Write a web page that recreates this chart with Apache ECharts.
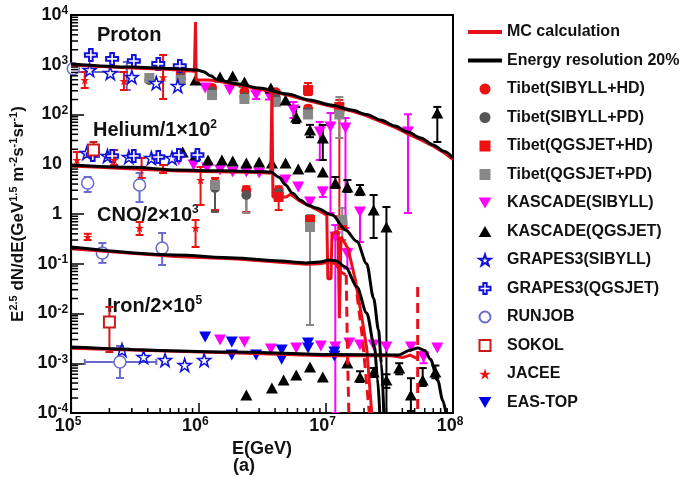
<!DOCTYPE html>
<html>
<head>
<meta charset="utf-8">
<script src="https://cdn.jsdelivr.net/npm/echarts@6/dist/echarts.min.js"></script>
<style>
  html, body { margin: 0; padding: 0; background: #fff; }
  #chart { width: 682px; height: 478px; }
</style>
</head>
<body>
<div id="chart"></div>
<script>
const FONT = '"Liberation Sans", Arial, Helvetica, sans-serif';

// ---- Energy resolution 20% spectra (black) ----
const resProton = [[1e5,1040],[3e5,900],[6e5,840],[9.8e5,784],[1.1e6,720],[1.25e6,600],[1.4e6,500],[2e6,415],[3e6,341],[5e6,257],[7.5e6,196],[1.1e7,155],[1.6e7,123],[2.1e7,100],[2.7e7,77.5],[3.5e7,58.6],[4.4e7,44.5],[5.6e7,33.7],[7e7,24.4],[8.5e7,18.2],[1e8,13.4]];
const resHelium = [[1e5,9.66],[3e5,8.7],[6.9e5,7.66],[1.5e6,7.4],[3e6,7.1],[3.7e6,6.98],[4.3e6,5.5],[4.84e6,3.83],[5.5e6,2.6],[6.3e6,1.91],[7.3e6,1.5],[8.4e6,1.32],[1.13e7,0.955],[1.43e7,0.477],[1.76e7,0.28],[2.1e7,0.1],[2.38e7,0.02],[2.6e7,4.7e-3],[2.74e7,1e-3],[2.86e7,1e-4]];
const resCNO = [[1e5,0.217],[6.6e5,0.15],[1.93e6,0.131],[4e6,0.115],[7e6,0.104],[9e6,0.108],[1.07e7,0.119],[1.2e7,0.115],[1.43e7,0.086],[1.76e7,0.034],[2.1e7,0.0102],[2.42e7,2.1e-3],[2.55e7,5e-4],[2.66e7,1e-4]];
const resIron = [[1e5,2.12e-3],[1.93e6,1.68e-3],[1.13e7,1.5e-3],[3.7e7,1.47e-3],[4.67e7,1.85e-3],[5.3e7,2.03e-3],[6e7,1.8e-3],[6.65e7,1.2e-3],[7.6e7,4.5e-4],[8.3e7,1.8e-4],[8.8e7,1e-4]];

// ---- MC calculation (red) ----
const mcProton = [[1e5,990],[3e5,860],[6e5,800],[9.3e5,740],[9.49e5,7200],[9.6e5,494],[1.2e6,494],[1.4e6,470],[2e6,395],[3e6,325],[5e6,245],[7.5e6,186],[1.1e7,147],[1.6e7,117],[2.1e7,94],[2.7e7,72],[3.5e7,55],[4.4e7,41],[5.6e7,31],[7e7,23],[8.5e7,17],[1e8,12.5]];
const mcHelium = [[1e5,9.2],[6.9e5,7.3],[3e6,6.8],[3.7e6,6.6],[3.78e6,270],[3.85e6,2.2],[4.9e6,2.2],[5.3e6,2.5],[6.3e6,1.8],[8.4e6,1.25],[1.02e7,0.95],[1.04e7,0.05],[1.1e7,0.05],[1.12e7,0.4],[1.25e7,0.45],[1.28e7,0.008],[1.32e7,0.35],[1.5e7,0.2],[1.7e7,0.05],[1.9e7,0.01],[2.1e7,2e-3],[2.3e7,1e-4]];
const mcCNO = [[1e5,0.2],[6.6e5,0.14],[2e6,0.124],[7e6,0.098],[9e6,0.1],[1.07e7,0.108],[1.2e7,0.1],[1.3e7,0.07],[1.43e7,0.06]];
const mcIron = [[1e5,2.0e-3],[2e6,1.6e-3],[1e7,1.42e-3],[3.3e7,1.42e-3],[4e7,1.3e-3],[4.6e7,1.45e-3],[5.2e7,1.25e-3]];
const mcDashA = [[1.45e7,0.06],[1.48e7,2e-3],[1.52e7,1e-4]];
const mcDashB = [[1.7e7,0.05],[1.95e7,3e-3],[2.2e7,1e-4]];
const mcDashC = [[5.28e7,0.034],[5.28e7,1e-4]];

// ---- Tibet ----
const tibetSH = [[7.27e5,680],[1.28e6,340],[2.3e6,285],[4.06e6,280],[7.27e6,130],[1.28e7,125],[1.35e6,4.2],[2.38e6,3.0],[4.27e6,3.0]];
const tibetSP = [[4.12e5,494],[7.27e5,540],[1.28e6,285],[2.3e6,225],[4.06e6,215],[7.27e6,112],[1.28e7,112],[1.35e6,3.33],[2.38e6,2.41],[4.27e6,2.64]];
const tibetQH = [[7.27e6,311],[1.28e7,142],[4.27e6,2.2],[7.53e6,0.757],[1.35e7,0.6]];
const tibetQP = [[4.12e5,542],[7.27e5,494],[1.28e6,246],[2.3e6,205],[4.06e6,178],[7.27e6,100],[1.28e7,100],[1.35e6,3.83],[7.53e6,0.548],[1.35e7,0.757]];
const tibetSHErr = [[1.28e6,300,390],[7.27e6,115,150],[1.35e6,1.2,5.3],[2.38e6,1.1,3.6],[4.27e6,1.2,3.6]];
const tibetSPErr = [[1.28e6,250,330],[2.3e6,200,260],[7.27e6,90,140],[1.35e6,1.1,3.9]];
const tibetQHErr = [[7.27e6,246,429],[1.28e7,0.9,196],[7.53e6,0.65,0.9]];
const tibetQPErr = [[7.53e6,5.88e-3,0.955],[1.35e7,0.3,1.32],[1.28e7,33.7,225],[2.38e6,1.05,2.6]];

// ---- KASCADE ----
const kasSib = [[1.13e6,341],[1.76e6,311],[2.84e6,246],[3.58e6,246],[5.57e6,123],[8.99e6,44.5],[1.09e7,56.1],[1.43e7,53.6],[4.43e7,44.5],
  [7.02e5,12.2],[9.16e5,9.66],[1.17e6,8.41],[1.48e6,7.66],[1.86e6,6.98],[2.38e6,6.98],[3.0e6,6.67],[4.84e6,4.82],[6.09e6,3.49],[7.53e6,1.74],[9.49e6,2.77],[1.19e7,0.345],[1.48e7,0.158],[1.86e7,1.1],
  [1.48e6,2.93e-3],[2.3e6,2.67e-3],[3.71e6,1.93e-3],[5.87e6,2.03e-3],[9.16e6,2.22e-3],[1.19e7,2.12e-3],[1.53e7,2.55e-3],[1.86e7,2.33e-3],[2.38e7,2.33e-3],[3.0e7,2.12e-3],[4.67e7,2.12e-3],[5.87e7,1.34e-3],[7.53e7,2.03e-3]];
const kasSibErr = [[2.84e6,205,311],[3.58e6,200,290],[5.57e6,85,178],[8.99e6,12.2,70.7],[1.09e7,1.05,107],[1.43e7,0.524,85],[4.43e7,1.05,101],[9.49e6,2.2,3.4],[1.19e7,1e-4,0.6],[1.48e7,0.08,0.2],[1.86e7,0.274,1.32],[5.87e7,1.0e-3,1.7e-3]];
const kasQgs = [[9.49e5,494],[1.48e6,567],[1.86e6,594],[2.3e6,450],[3.71e6,341],[4.84e6,196],[5.87e6,89.1],[7.53e6,48.8],[9.49e6,33.7],[7.53e7,107],
  [7.53e5,17.6],[9.49e5,15.3],[1.19e6,12.2],[1.53e6,12.2],[1.86e6,11.6],[2.38e6,10.6],[3.0e6,11.1],[3.78e6,10.6],[4.84e6,10.6],[6.09e6,8.03],[7.53e6,8.81],[9.49e6,6.98],[1.19e7,4.2],[1.48e7,3.49],[1.86e7,3.04],[2.38e7,1.2],[3.0e7,0.548],
  [2.38e6,2.3e-4],[3.78e6,3.18e-4],[4.67e6,4.61e-4],[5.87e6,5.81e-4],[7.53e6,8.41e-4],[9.49e6,5.3e-4],[1.48e7,1.01e-3],[1.86e7,5.3e-4],[2.38e7,6.68e-4],[3.0e7,4.61e-4],[3.78e7,8.03e-4],[4.67e7,2.3e-4],[5.78e7,4.61e-4],[7.27e7,6.68e-4]];
const kasQgsErr = [[5.87e6,67.5,142],[7.53e6,35,62],[9.49e6,12.2,61.5],[7.53e7,28,142],[1.19e7,3.33,5.54],[1.48e7,2.77,4.82],[1.86e7,2.41,3.83],[2.38e7,0.33,2.41],[3.0e7,1e-4,1.38],
  [1.86e7,4.2e-4,6.9e-4],[2.38e7,5.3e-4,8.0e-4],[3.0e7,3.2e-4,6.0e-4],[3.78e7,6.0e-4,1.0e-3],[4.67e7,1.1e-4,5.0e-4],[5.78e7,3.5e-4,8.0e-4],[7.27e7,5.0e-4,9.0e-4]];

// ---- GRAPES3 ----
const grapesSib = [[1.40e5,784],[2.03e5,682],[3.0e5,567],[4.67e5,429],[6.89e5,374],
  [1.33e5,16.8],[1.93e5,14.7],[2.84e5,14.0],[4.27e5,13.4],[6.2e5,13.4],
  [2.51e5,1.85e-3],[3.71e5,1.34e-3],[5.47e5,1.16e-3],[7.8e5,9.23e-4],[1.11e6,1.16e-3]];
const grapesQgs = [[1.43e5,1570],[2.10e5,1310],[3.11e5,1190],[4.84e5,1040],[7.14e5,944],
  [1.48e5,15.3],[2.1e5,14.7],[3.11e5,14.7],[4.84e5,14.0],[7.02e5,15.3],[9.83e5,15.3]];

// ---- RUNJOB, SOKOL, JACEE, EAS-TOP ----
const runjob = [[1.04e5,830],[1.35e5,4.2],[3.45e5,3.83],[1.76e5,0.164],[5.19e5,0.207],[2.42e5,1.06e-3]];
const runjobErr = [[1.35e5,2.77,5.54],[3.45e5,1.74,6.67],[1.76e5,0.104,0.261],[5.19e5,0.0944,0.415],[2.42e5,5.06e-4,2.22e-3],[2.74e5,311,1140]];
const runjobErrE = [[1.0e5,714,2.74e5],[1.28e5,1.06e-3,4.67e5]];
const sokol = [[1.5e5,19.3],[2.0e5,6.75e-3]];
const sokolErr = [[1.5e5,14,28],[2.0e5,1.68e-3,0.0135]];
const jacee = [[1.28e5,494],[2.6e5,470],[5.28e5,560],[1.11e5,12.2],[2.18e5,12.2],[3.58e5,8.81],[5.28e5,7.66],[1.04e6,4.82],[1.35e5,0.345],[3.45e5,0.524],[9.5e5,0.524]];
const jaceeErr = [[1.28e5,341,714],[2.6e5,311,714],[5.28e5,205,1570],[1.11e5,9.66,17.6],[2.18e5,9.66,19.3],[3.58e5,5.29,13.4],[5.28e5,6.67,9.66],[1.04e6,1.52,8.81],[1.35e5,0.30,0.40],[3.45e5,0.378,0.69],[9.5e5,0.217,0.757]];
const easTop = [[1.13e6,3.37e-3],[1.83e6,2.67e-3],[1.83e6,1.47e-3],[2.84e6,1.47e-3],[4.51e6,1.85e-3],[4.51e6,1.2e-3],[7.27e6,2.55e-3],[7.27e6,2.03e-3],[1.17e7,1.40e-3],[1.17e7,1.68e-3]];

// ---- axis decades ----
const xDecades = [5, 6, 7];
const yDecades = [-4, -3, -2, -1, 0, 1, 2, 3];

// marker shapes
const TRI_UP = 'path://M5,0L10,8.66L0,8.66Z';
const TRI_DOWN = 'path://M0,0L10,0L5,8.66Z';
const SQUARE = 'path://M0,0L10,0L10,10L0,10Z';
const STAR = 'path://M50,0L61.2,34.5L97.6,34.5L68.2,55.9L79.4,90.5L50,69.1L20.6,90.5L31.8,55.9L2.4,34.5L38.8,34.5Z';
const CROSS = 'path://M35,0L65,0L65,35L100,35L100,65L65,65L65,100L35,100L35,65L0,65L0,35L35,35Z';

const RED = '#e8101a';
const BLUE = '#1010d8';
const MAGENTA = '#ff00ff';

function scatter(name, data, symbol, size, fill, border, bw) {
  return {
    type: 'scatter', name, data, symbol, symbolSize: size, z: 4,
    itemStyle: { color: fill, borderColor: border || fill, borderWidth: bw || 0, opacity: 1 },
    emphasis: { disabled: true }
  };
}

function vErr(name, rows, color, w) {
  return {
    type: 'custom', name: name + ' err', data: rows, z: 3, silent: true, clip: true,
    renderItem(params, api) {
      const a = api.coord([api.value(0), api.value(1)]);
      const b = api.coord([api.value(0), api.value(2)]);
      const c = 4, st = { stroke: color, lineWidth: w || 2 };
      return { type: 'group', children: [
        { type: 'line', shape: { x1: a[0], y1: a[1], x2: b[0], y2: b[1] }, style: st },
        { type: 'line', shape: { x1: a[0] - c, y1: a[1], x2: a[0] + c, y2: a[1] }, style: st },
        { type: 'line', shape: { x1: b[0] - c, y1: b[1], x2: b[0] + c, y2: b[1] }, style: st }
      ]};
    }
  };
}

function hErr(name, rows, color) {
  return {
    type: 'custom', name: name + ' herr', data: rows, z: 3, silent: true, clip: true,
    renderItem(params, api) {
      const a = api.coord([api.value(0), api.value(1)]);
      const b = api.coord([api.value(2), api.value(1)]);
      const c = 3, st = { stroke: color, lineWidth: 2 };
      return { type: 'group', children: [
        { type: 'line', shape: { x1: a[0], y1: a[1], x2: b[0], y2: b[1] }, style: st },
        { type: 'line', shape: { x1: a[0], y1: a[1] - c, x2: a[0], y2: a[1] + c }, style: st },
        { type: 'line', shape: { x1: b[0], y1: b[1] - c, x2: b[0], y2: b[1] + c }, style: st }
      ]};
    }
  };
}

function line(name, data, color, opts) {
  return Object.assign({
    type: 'line', name, data, symbol: 'none', z: 5, clip: true,
    lineStyle: { color, width: 3 }, itemStyle: { color },
    emphasis: { disabled: true }
  }, opts || {});
}

// minor ticks at 2..9 within each decade
const xMinor = [];
xDecades.forEach(k => { for (let m = 2; m <= 9; m++) xMinor.push([m * Math.pow(10, k), 1e-4]); });
const yMinor = [];
yDecades.forEach(k => { for (let m = 2; m <= 9; m++) yMinor.push([1e5, m * Math.pow(10, k)]); });

function tickSeries(rows, horizontal, len) {
  return {
    type: 'custom', name: 'minor', data: rows, z: 7, silent: true, clip: false,
    renderItem(params, api) {
      const p = api.coord([api.value(0), api.value(1)]);
      const shape = horizontal
        ? { x1: p[0], y1: p[1], x2: p[0] + len, y2: p[1] }
        : { x1: p[0], y1: p[1], x2: p[0], y2: p[1] - len };
      return { type: 'line', shape, style: { stroke: '#000', lineWidth: 1.5 } };
    }
  };
}

function powLabel(v) {
  const e = Math.round(Math.log10(v));
  if (e === 0) return '{b|1}{p| }';
  if (e === 1) return '{b|10}{p| }';
  return '{b|10}{s|' + e + '}';
}
const labelRich = {
  b: { fontSize: 18, fontWeight: 'bold', fontFamily: FONT, color: '#111', lineHeight: 20 },
  s: { fontSize: 12, fontWeight: 'bold', fontFamily: FONT, color: '#111', verticalAlign: 'top', lineHeight: 12 },
  p: { fontSize: 12, fontWeight: 'bold', fontFamily: FONT, width: 6 }
};

const supStyle = { fontSize: 12, fontWeight: 'bold', fontFamily: FONT, fill: '#111', verticalAlign: 'top', lineHeight: 12 };
const mainStyle = { fontSize: 20, fontWeight: 'bold', fontFamily: FONT, fill: '#111', lineHeight: 22 };

const chart = echarts.init(document.getElementById('chart'), null, { renderer: 'canvas' });
chart.setOption({
  animation: false,
  backgroundColor: '#fff',
  grid: { left: 63, top: 15, right: 229, bottom: 65, show: true, borderColor: '#000', borderWidth: 2 },
  xAxis: {
    type: 'log', logBase: 10, min: 1e5, max: 1e8, splitNumber: 3,
    axisLine: { show: true, onZero: false, lineStyle: { color: '#000', width: 2 } },
    axisTick: { inside: true, length: 10, lineStyle: { color: '#000', width: 1.5 } },
    splitLine: { show: false },
    axisLabel: { margin: 3, fontSize: 18, fontWeight: 'bold', fontFamily: FONT, padding: [0, 6, 0, 0], formatter: powLabel, rich: labelRich },
    name: 'E(GeV)', nameLocation: 'middle', nameGap: 26,
    nameTextStyle: { fontSize: 18, fontWeight: 'bold', fontFamily: FONT, color: '#111' }
  },
  yAxis: {
    type: 'log', logBase: 10, min: 1e-4, max: 1e4, splitNumber: 8,
    axisLine: { show: true, onZero: false, lineStyle: { color: '#000', width: 2 } },
    axisTick: { inside: true, length: 13, lineStyle: { color: '#000', width: 1.5 } },
    splitLine: { show: false },
    axisLabel: { margin: 3, fontSize: 18, fontWeight: 'bold', fontFamily: FONT, formatter: powLabel, rich: labelRich },
    name: '{t|E}{u|2.5}{t| dN/dE(GeV}{u|1.5}{t| m}{u|-2}{t|s}{u|-1}{t|sr}{u|-1}{t|)}',
    nameLocation: 'middle', nameRotate: 90, nameGap: 40,
    nameTextStyle: {
      rich: {
        t: { fontSize: 17, fontWeight: 'bold', fontFamily: FONT, color: '#111', lineHeight: 20 },
        u: { fontSize: 11, fontWeight: 'bold', fontFamily: FONT, color: '#111', verticalAlign: 'top', lineHeight: 11 }
      }
    }
  },
  legend: {
    orient: 'vertical', left: 463, top: 19, itemWidth: 34, itemHeight: 11, itemGap: 12.5,
    selectedMode: false,
    textStyle: { fontFamily: FONT, fontSize: 16, fontWeight: 'bold', color: '#111', lineHeight: 16 },
    data: [
      { name: 'MC calculation', icon: 'path://M0,0L34,0L34,4L0,4Z' },
      { name: 'Energy resolution 20%', icon: 'path://M0,0L34,0L34,4L0,4Z' },
      'Tibet(SIBYLL+HD)', 'Tibet(SIBYLL+PD)', 'Tibet(QGSJET+HD)', 'Tibet(QGSJET+PD)',
      'KASCADE(SIBYLL)', 'KASCADE(QGSJET)', 'GRAPES3(SIBYLL)', 'GRAPES3(QGSJET)',
      'RUNJOB', 'SOKOL', 'JACEE', 'EAS-TOP'
    ]
  },
  graphic: [
    { type: 'text', x: 97, y: 35, style: Object.assign({ text: 'Proton', verticalAlign: 'middle' }, mainStyle) },
    { type: 'text', x: 93, y: 130, style: { text: '{a|Helium/1×10}{b|2}', verticalAlign: 'middle', rich: { a: mainStyle, b: supStyle } } },
    { type: 'text', x: 97, y: 215, style: { text: '{a|CNO/2×10}{b|3}', verticalAlign: 'middle', rich: { a: mainStyle, b: supStyle } } },
    { type: 'text', x: 107, y: 306, style: { text: '{a|Iron/2×10}{b|5}', verticalAlign: 'middle', rich: { a: mainStyle, b: supStyle } } },
    { type: 'text', x: 244, y: 466, style: { text: '(a)', align: 'center', verticalAlign: 'middle', fontSize: 18, fontWeight: 'bold', fontFamily: FONT, fill: '#111' } }
  ],
  series: [
    line('MC calculation', mcProton, RED),
    line('MC calculation', mcHelium, RED),
    line('MC calculation', mcCNO, RED),
    line('MC calculation', mcIron, RED),
    line('MC calculation', mcDashA, RED, { lineStyle: { color: RED, width: 3, type: [10, 6] } }),
    line('MC calculation', mcDashB, RED, { lineStyle: { color: RED, width: 3, type: [10, 6] } }),
    line('MC calculation', mcDashC, RED, { lineStyle: { color: RED, width: 3, type: [10, 6] } }),
    line('Energy resolution 20%', resProton, '#000', { z: 6, smooth: 0.3, smoothMonotone: 'x' }),
    line('Energy resolution 20%', resHelium, '#000', { z: 6, smooth: 0.3, smoothMonotone: 'x' }),
    line('Energy resolution 20%', resCNO, '#000', { z: 6, smooth: 0.3, smoothMonotone: 'x' }),
    line('Energy resolution 20%', resIron, '#000', { z: 6, smooth: 0.3, smoothMonotone: 'x' }),

    scatter('Tibet(SIBYLL+HD)', tibetSH, 'circle', 10, '#ee1111'),
    scatter('Tibet(SIBYLL+PD)', tibetSP, 'circle', 10, '#555555'),
    scatter('Tibet(QGSJET+HD)', tibetQH, SQUARE, 10, '#ee1111'),
    scatter('Tibet(QGSJET+PD)', tibetQP, SQUARE, 10, '#888888'),
    scatter('KASCADE(SIBYLL)', kasSib, TRI_DOWN, [12, 11], MAGENTA),
    scatter('KASCADE(QGSJET)', kasQgs, TRI_UP, [12, 11], '#000'),
    scatter('GRAPES3(SIBYLL)', grapesSib, STAR, 13, '#fff', BLUE, 1.5),
    scatter('GRAPES3(QGSJET)', grapesQgs, CROSS, 12, '#fff', BLUE, 2),
    scatter('RUNJOB', runjob, 'circle', 12, '#fff', '#6a6acd', 1.5),
    scatter('SOKOL', sokol, SQUARE, 11, '#fff', '#cc1a1a', 2),
    scatter('JACEE', jacee, STAR, 9, '#ee1111'),
    scatter('EAS-TOP', easTop, TRI_DOWN, [12, 11], '#0000ee'),

    vErr('Tibet(SIBYLL+HD)', tibetSHErr, '#ee1111'),
    vErr('Tibet(SIBYLL+PD)', tibetSPErr, '#555555'),
    vErr('Tibet(QGSJET+HD)', tibetQHErr, '#ee1111'),
    vErr('Tibet(QGSJET+PD)', tibetQPErr, '#888888'),
    vErr('KASCADE(SIBYLL)', kasSibErr, MAGENTA),
    vErr('KASCADE(QGSJET)', kasQgsErr, '#000'),
    vErr('RUNJOB', runjobErr, '#6a6acd'),
    hErr('RUNJOB', runjobErrE, '#6a6acd'),
    vErr('SOKOL', sokolErr, '#cc1a1a'),
    vErr('JACEE', jaceeErr, '#ee1111'),

    tickSeries(xMinor, false, 5),
    tickSeries(yMinor, true, 7)
  ]
});
</script>
</body>
</html>
